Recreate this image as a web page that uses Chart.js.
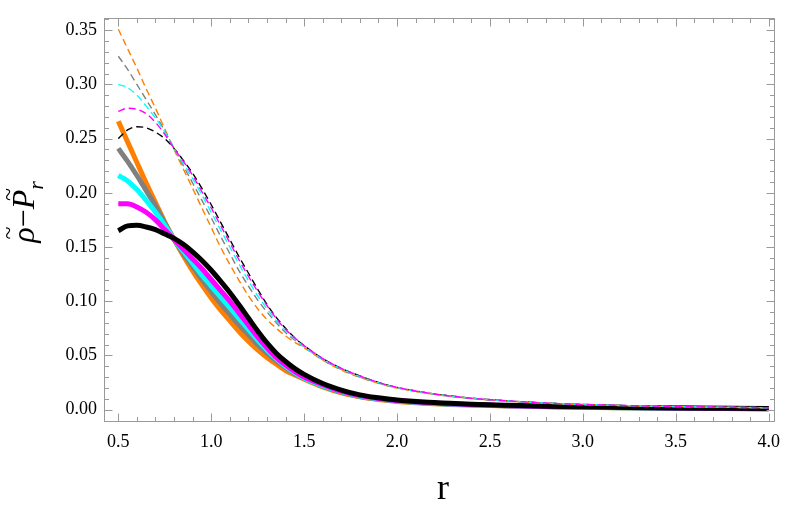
<!DOCTYPE html>
<html><head><meta charset="utf-8">
<script src="https://cdn.jsdelivr.net/npm/chart.js@4/dist/chart.umd.min.js"></script>
<style>html,body{margin:0;padding:0;background:#fff;font-family:"Liberation Serif",serif;}#wrap{width:789px;height:507px;}</style>
</head><body><div id="wrap"><canvas id="c" width="789" height="507"></canvas></div>
<script>
// radial coordinate samples
const R = [0.5,0.55,0.6,0.65,0.7,0.75,0.8,0.85,0.9,0.95,1.0,1.05,1.1,1.15,1.2,1.25,1.3,1.35,1.4,1.45,1.5,1.6,1.7,1.8,1.9,2.0,2.2,2.4,2.6,2.8,3.0,3.25,3.5,3.75,4.0];

// solid curves
const solidBlack = [0.165,0.1695,0.170,0.1685,0.166,0.162,0.158,0.1525,0.1455,0.1375,0.1285,0.1185,0.108,0.0965,0.0845,0.0725,0.0615,0.052,0.0443,0.0378,0.0325,
  0.024,0.018,0.0135,0.0108,0.0088,0.0064,0.0049,0.0039,0.0031,0.0025,0.0019,0.0015,0.0012,0.0009];
const solidMagenta = [0.190,0.190,0.187,0.182,0.175,0.166,0.157,0.148,0.139,0.130,0.120,0.110,0.100,0.089,0.078,0.067,0.057,0.048,0.041,0.035,0.030,
  0.023,0.017,0.0128,0.0102,0.0083,0.0060,0.0046,0.0036,0.0029,0.0023,0.0018,0.0014,0.0011,0.0008];
const solidCyan = [0.216,0.211,0.203,0.193,0.182,0.170,0.157,0.146,0.135,0.124,0.114,0.104,0.094,0.084,0.074,0.064,0.055,0.047,0.040,0.034,0.029,
  0.022,0.0165,0.0124,0.0099,0.0080,0.0058,0.0044,0.0035,0.0028,0.0022,0.0017,0.0013,0.0010,0.0008];
const solidGray = [0.241,0.229,0.216,0.202,0.188,0.172,0.157,0.144,0.132,0.120,0.109,0.098,0.088,0.078,0.069,0.060,0.052,0.045,0.039,0.033,0.029,
  0.0215,0.016,0.012,0.0096,0.0078,0.0056,0.0043,0.0034,0.0027,0.0021,0.0016,0.0013,0.0010,0.0007];
const solidOrange = [0.266,0.247,0.228,0.209,0.191,0.173,0.157,0.142,0.128,0.115,0.103,0.092,0.082,0.072,0.063,0.055,0.048,0.042,0.036,0.032,0.028,
  0.021,0.0155,0.0117,0.0093,0.0075,0.0054,0.0041,0.0032,0.0026,0.0020,0.0015,0.0012,0.0009,0.0007];

// dashed curves
const dashBlack = [0.250,0.258,0.261,0.260,0.256,0.250,0.241,0.230,0.218,0.204,0.189,0.173,0.157,0.141,0.126,0.111,0.097,0.085,0.075,0.066,0.059,
  0.047,0.038,0.031,0.025,0.0205,0.0145,0.0105,0.0080,0.0060,0.0047,0.0036,0.0028,0.0022,0.0017];
const dashMagenta = [0.275,0.278,0.277,0.273,0.265,0.254,0.241,0.229,0.216,0.201,0.186,0.170,0.154,0.138,0.123,0.109,0.096,0.084,0.074,0.066,0.059,
  0.047,0.038,0.031,0.025,0.0204,0.0144,0.0104,0.0080,0.0060,0.0047,0.0036,0.0028,0.0022,0.0017];
const dashCyan = [0.300,0.297,0.290,0.280,0.269,0.256,0.241,0.227,0.213,0.198,0.182,0.166,0.150,0.134,0.119,0.105,0.093,0.082,0.073,0.065,0.058,
  0.0465,0.0375,0.0305,0.0248,0.0203,0.0143,0.0104,0.0079,0.0060,0.0047,0.0036,0.0028,0.0022,0.0017];
const dashGray = [0.326,0.314,0.300,0.286,0.272,0.257,0.241,0.225,0.209,0.193,0.177,0.160,0.144,0.128,0.114,0.101,0.090,0.080,0.071,0.064,0.058,
  0.046,0.037,0.030,0.0245,0.0201,0.0142,0.0103,0.0078,0.0059,0.0046,0.0035,0.0027,0.0021,0.0016];
const dashOrange = [0.351,0.333,0.315,0.296,0.278,0.259,0.240,0.222,0.204,0.186,0.168,0.150,0.134,0.119,0.105,0.093,0.083,0.075,0.068,0.062,0.057,
  0.0455,0.0365,0.0297,0.0242,0.0198,0.0140,0.0102,0.0077,0.0058,0.0045,0.0035,0.0027,0.0021,0.0016];

// ticks
const xTicks = [0.5,1.0,1.5,2.0,2.5,3.0,3.5,4.0];
const xTickLabels = ["0.5","1.0","1.5","2.0","2.5","3.0","3.5","4.0"];
const yTicks = [0,0.05,0.10,0.15,0.20,0.25,0.30,0.35];
const yTickLabels = ["0.00","0.05","0.10","0.15","0.20","0.25","0.30","0.35"];

const ORANGE = '#FF7F00', GRAY = '#808080', CYAN = '#00FFFF', MAGENTA = '#FF00FF', BLACK = '#000000';
const pts = ys => R.map((r,i)=>({x:r,y:ys[i]}));
const dashed = (ys,c) => ({data:pts(ys),borderColor:c,borderWidth:1.4,borderDash:[7,4],pointRadius:0,fill:false,cubicInterpolationMode:'monotone'});
const solid = (ys,c) => ({data:pts(ys),borderColor:c,borderWidth:5,pointRadius:0,fill:false,cubicInterpolationMode:'monotone'});

const SERIF = "'Liberation Serif', 'Times New Roman', serif";
Chart.defaults.font.family = SERIF;

const framePlugin = {
  id:'frame',
  afterDatasetsDraw(chart){
    const ctx = chart.ctx, a = chart.chartArea, xs = chart.scales.x, ys = chart.scales.y;
    ctx.save();
    ctx.strokeStyle = '#9a9a9a'; ctx.lineWidth = 1;
    const L = Math.round(a.left)+0.5, Rr = Math.round(a.right)-0.5, T = Math.round(a.top)+0.5, B = Math.round(a.bottom)-0.5;
    ctx.strokeRect(L, T, Rr-L, B-T);
    ctx.beginPath();
    for (let k=5;k<=40;k++){
      const v = k/10; const major = (k%5===0);
      const p = Math.round(xs.getPixelForValue(v))+0.5; const len = major?8:4.5;
      ctx.moveTo(p,B); ctx.lineTo(p,B-len);
      ctx.moveTo(p,T); ctx.lineTo(p,T+len);
    }
    for (let k=0;k<=36;k++){
      const v = k/100; const major = (k%5===0);
      const p = Math.round(ys.getPixelForValue(v))+0.5; const len = major?8:4.5;
      if (p < T || p > B) continue;
      ctx.moveTo(L,p); ctx.lineTo(L+len,p);
      ctx.moveTo(Rr,p); ctx.lineTo(Rr-len,p);
    }
    ctx.stroke();
    ctx.restore();
  },
  afterDraw(chart){
    const ctx = chart.ctx;
    ctx.save();
    ctx.fillStyle = '#000';
    ctx.font = '36px "Liberation Serif"'; ctx.textAlign = 'center'; ctx.textBaseline = 'alphabetic';
    ctx.fillText('r', 443, 499);
    ctx.translate(34, 212); ctx.rotate(-Math.PI/2);
    ctx.textAlign = 'left';
    const parts = [
      {t:'ρ', f:'italic 32px "Liberation Serif"', tilde:true, dy:0, tx:2},
      {t:'−', f:'32px "Liberation Serif"', dy:0},
      {t:'P', f:'italic 32px "Liberation Serif"', tilde:true, dy:0, tx:5},
      {t:'r', f:'italic 22px "Liberation Serif"', dy:9}
    ];
    let total = 0;
    parts.forEach(p=>{ctx.font=p.f; p.w=ctx.measureText(p.t).width; total+=p.w;});
    let x = -total/2;
    parts.forEach(p=>{
      ctx.font = p.f; ctx.textBaseline='alphabetic'; ctx.textAlign='left';
      ctx.fillText(p.t, x, p.dy);
      if (p.tilde){
        ctx.font = '24px "Liberation Serif"'; ctx.textAlign='center'; ctx.textBaseline='middle';
        ctx.fillText('~', x + p.w/2 + p.tx, -24);
      }
      x += p.w;
    });
    ctx.restore();
  }
};

const chart = new Chart(document.getElementById('c'), {
  type:'line',
  data:{datasets:[
    dashed(dashMagenta,MAGENTA), dashed(dashCyan,CYAN), dashed(dashGray,GRAY), dashed(dashOrange,ORANGE), dashed(dashBlack,BLACK),
    solid(solidBlack,BLACK), solid(solidMagenta,MAGENTA), solid(solidCyan,CYAN), solid(solidGray,GRAY), solid(solidOrange,ORANGE)
  ]},
  options:{
    responsive:false, animation:false, devicePixelRatio:1,
    layout:{padding:{top:2,right:7,left:0,bottom:0}},
    plugins:{legend:{display:false},tooltip:{enabled:false}},
    scales:{
      x:{type:'linear',min:0.423,max:4.032,
        afterBuildTicks:s=>{s.ticks = xTicks.map(v=>({value:v}));},
        afterFit:s=>{s.height = 85;},
        grid:{display:false,drawTicks:false},border:{display:false},
        ticks:{autoSkip:false,maxRotation:0,padding:9,color:'#000',font:{family:SERIF,size:18,style:'normal',weight:'normal'},
          callback:(v)=>{const i=xTicks.findIndex(t=>Math.abs(t-v)<1e-9);return i>=0?xTickLabels[i]:'';}}},
      y:{type:'linear',min:-0.0115,max:0.3615,
        afterBuildTicks:s=>{s.ticks = yTicks.map(v=>({value:v}));},
        afterFit:s=>{s.width = 104;},
        grid:{display:false,drawTicks:false},border:{display:false},
        ticks:{autoSkip:false,padding:7,color:'#000',font:{family:SERIF,size:18,style:'normal',weight:'normal'},
          callback:(v)=>{const i=yTicks.findIndex(t=>Math.abs(t-v)<1e-9);return i>=0?yTickLabels[i]:'';}}}
    }
  },
  plugins:[framePlugin]
});
if (document.fonts && document.fonts.load) {
  Promise.all([document.fonts.load('18px "Liberation Serif"'), document.fonts.load('italic 32px "Liberation Serif"')]).then(()=>chart.update());
}
</script></body></html>
